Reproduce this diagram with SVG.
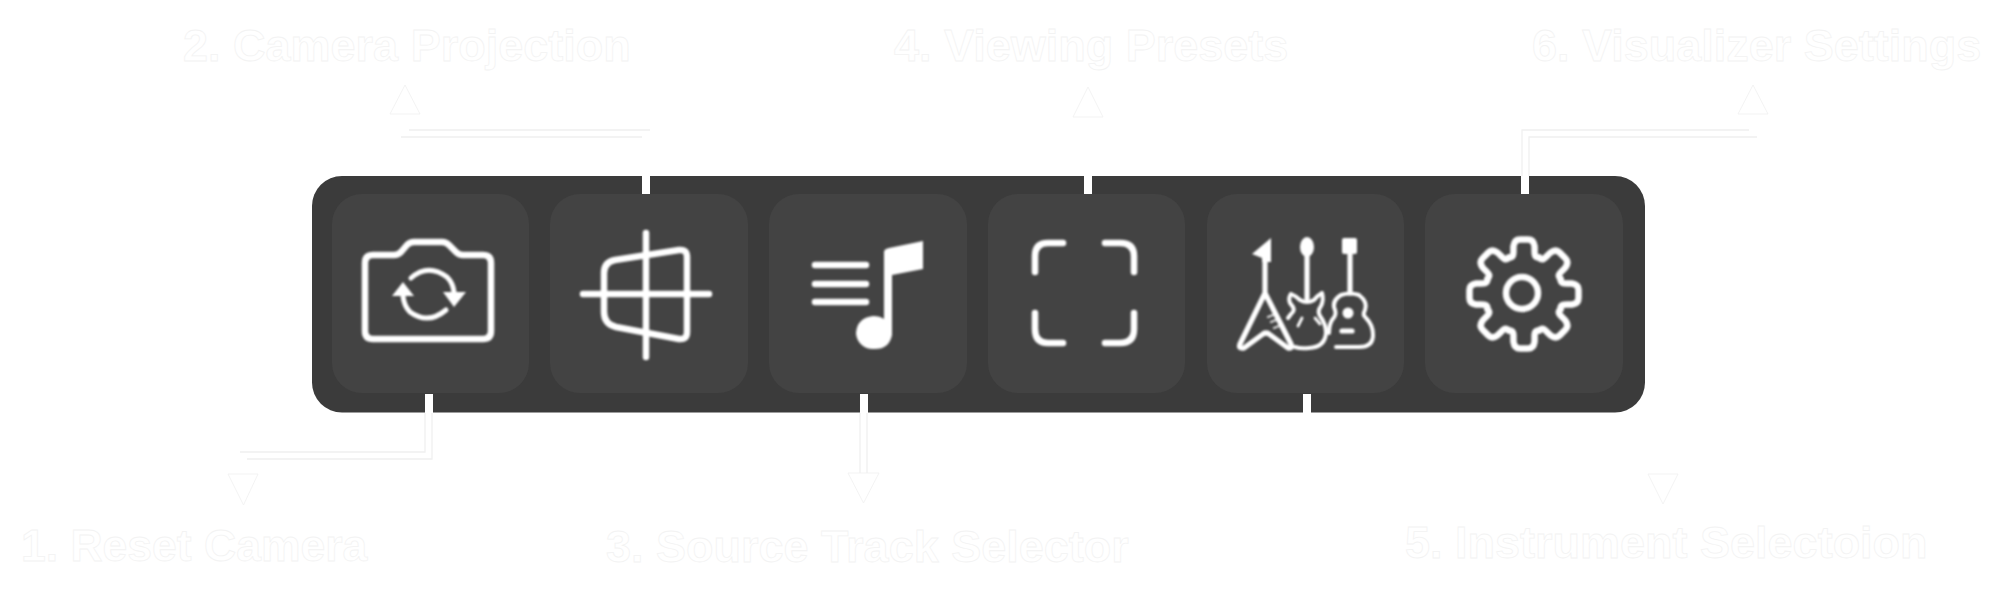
<svg xmlns="http://www.w3.org/2000/svg" width="2000" height="591" viewBox="0 0 2000 591">
<style>
.lbl{font-family:"Liberation Sans",Arial,sans-serif;font-weight:700;font-size:45px;fill:#fff;stroke:#f3f3f3;stroke-width:.8}
.edge{fill:none;stroke:#f0f0f0;stroke-width:1.3}
.head{fill:#fff;stroke:#f2f2f2;stroke-width:.9}
.stub{fill:#fff}
.tile{fill:#434343}
.ic{fill:none;stroke:#fff;stroke-width:6.5;stroke-linecap:round;stroke-linejoin:round}
.ic2{fill:none;stroke:#fff;stroke-width:5.2;stroke-linecap:round;stroke-linejoin:round}
.sol{fill:#fff;stroke:none}
</style>
<defs>
<filter id="soft" x="-10%" y="-10%" width="120%" height="120%"><feGaussianBlur stdDeviation="0.8"/></filter>
<path id="tooth" d="M-15-36.500C-9-36.500-11-42-10.500-48Q-9.500-54.500-4-54.500L4-54.500Q9.500-54.500 10.500-48C11-42 9-36.500 15-36.500"/>
</defs>
<rect width="2000" height="591" fill="#fff"/>
<rect id="panel" x="312" y="176" width="1333" height="236.500" rx="30" fill="#3b3b3b"/>
<g id="labels">
<text id="label-2" class="lbl" x="183" y="61">2. Camera Projection</text>
<text id="label-4" class="lbl" x="894" y="61">4. Viewing Presets</text>
<text id="label-6" class="lbl" x="1532" y="61">6. Visualizer Settings</text>
<text id="label-1" class="lbl" x="21" y="561" style="font-size:44.500px">1. Reset Camera</text>
<text id="label-3" class="lbl" x="606" y="562">3. Source Track Selector</text>
<text id="label-5" class="lbl" x="1405" y="558">5. Instrument Selectoion</text>
</g>
<g id="connectors">
<path class="edge" d="M409 130H650M401 137H642"/>
<path class="head" d="M405 85L420 114H390Z"/>
<rect class="stub" x="642" y="176" width="8" height="19"/>
<path class="head" d="M1088 87L1103 117H1073Z"/>
<rect class="stub" x="1084" y="176" width="8" height="19"/>
<path class="edge" d="M1522 176V130H1749M1529 176V137H1757"/>
<path class="head" d="M1753 85L1768 114H1738Z"/>
<rect class="stub" x="1521" y="176" width="8" height="19"/>
<path class="edge" d="M240 452H425V413M247 459H432V413"/>
<path class="head" d="M228 474H258L243.500 505Z"/>
<rect class="stub" x="425" y="394" width="8" height="19"/>
<path class="edge" d="M860 413V473M867 413V473"/>
<path class="head" d="M848 473H879L863.500 503Z"/>
<rect class="stub" x="860" y="394" width="8" height="19"/>
<path class="head" d="M1648 474H1678L1663 504Z"/>
<rect class="stub" x="1303" y="394" width="8" height="19"/>
</g>
<g id="node-1">
<rect class="tile" x="332" y="194" width="197" height="199" rx="30"/>
<g filter="url(#soft)">
<path class="ic" d="M373 255H394Q398 255 401 252L407 245Q410 242 414 242H442Q446 242 449 245L456 252Q459 255 463 255H483Q491 255 491 263V331Q491 339 483 339H373Q365 339 365 331V263Q365 255 373 255Z"/>
<path class="ic" style="stroke-width:5" d="M411 278Q428 263 447 277Q453 283 454 292M446 310Q428 325 410 312Q404 306 403 296"/>
<path class="sol" d="M443 292H466L454 307ZM392 296H414L403 282Z"/>
</g>
</g>
<g id="node-2">
<rect class="tile" x="550" y="194" width="198" height="199" rx="30"/>
<g filter="url(#soft)">
<path class="ic" d="M646 233V357M583 294H709"/>
<path class="ic" d="M615 260L679 250Q687 249 687 257V332Q687 340 679 339L616 327Q604 324 604 312V273Q604 262 615 260Z"/>
</g>
</g>
<g id="node-3">
<rect class="tile" x="769" y="194" width="198" height="199" rx="30"/>
<g filter="url(#soft)">
<path class="ic" d="M815 265H866M815 284H866M815 302H866"/>
<path class="sol" d="M884 252Q884 249 889 248L923 241V269L892 275V335Q889 350 873 349A16.500 16.500 0 0 1 856 333Q857 318 873 316Q880 316 884 319Z"/>
</g>
</g>
<g id="node-4">
<rect class="tile" x="988" y="194" width="197" height="199" rx="30"/>
<g filter="url(#soft)">
<path class="ic" d="M1035 272V256Q1035 243 1048 243H1063M1105 243H1120Q1134 243 1134 256V272M1035 313V329Q1035 343 1048 343H1063M1105 343H1120Q1134 343 1134 329V313"/>
</g>
</g>
<g id="node-5">
<rect class="tile" x="1207" y="194" width="197" height="199" rx="30"/>
<g filter="url(#soft)">
<path class="sol" d="M1271 238V262H1262V258L1252 254Z"/>
<path class="ic2" d="M1265 255V293L1240 344Q1238 349 1244 348L1263 334Q1266 332 1269 334L1288 348Q1293 349 1291 344L1265 293"/>
<path class="ic2" style="stroke-width:2.200;opacity:.8" d="M1268 317L1273 315M1271 322L1276 320M1274 328L1279 326"/>
<ellipse class="sol" cx="1307" cy="247" rx="7" ry="10"/>
<path class="ic2" d="M1307 250V298"/>
<path class="ic2" style="stroke-width:4" d="M1291 294Q1288 298 1290 303L1293 307Q1295 311 1291 314L1288 318M1295 347Q1301 349 1309 348Q1325 347 1326 333Q1326 324 1320 316Q1317 311 1321 306Q1324 300 1322 293Q1317 296 1314 300Q1307 304 1300 300Q1296 296 1291 294"/>
<path class="ic2" style="stroke-width:2.800" d="M1298 326L1302 318M1320 324L1315 318"/>
<rect class="sol" x="1342" y="238" width="15" height="16" rx="2"/>
<path class="ic2" d="M1350 250V293"/>
<path class="ic2" style="stroke-width:4" d="M1336 347H1359Q1373 347 1373 335Q1373 325 1366 318Q1362 315 1365 310Q1368 302 1359 295Q1350 292 1341 295Q1331 301 1335 310Q1337 315 1332 320Q1329 325 1329 333"/>
<circle class="sol" cx="1348" cy="313" r="5.500"/>
<path class="ic2" d="M1342 331H1352"/>
</g>
</g>
<g id="node-6">
<rect class="tile" x="1425" y="194" width="198" height="199" rx="30"/>
<g filter="url(#soft)">
<circle class="ic" cx="1522" cy="293" r="16"/>
<g class="ic" transform="translate(1524 294)">
<use href="#tooth"/>
<use href="#tooth" transform="rotate(45)"/>
<use href="#tooth" transform="rotate(90)"/>
<use href="#tooth" transform="rotate(135)"/>
<use href="#tooth" transform="rotate(180)"/>
<use href="#tooth" transform="rotate(225)"/>
<use href="#tooth" transform="rotate(270)"/>
<use href="#tooth" transform="rotate(315)"/>
</g>
</g>
</g>
</svg>
